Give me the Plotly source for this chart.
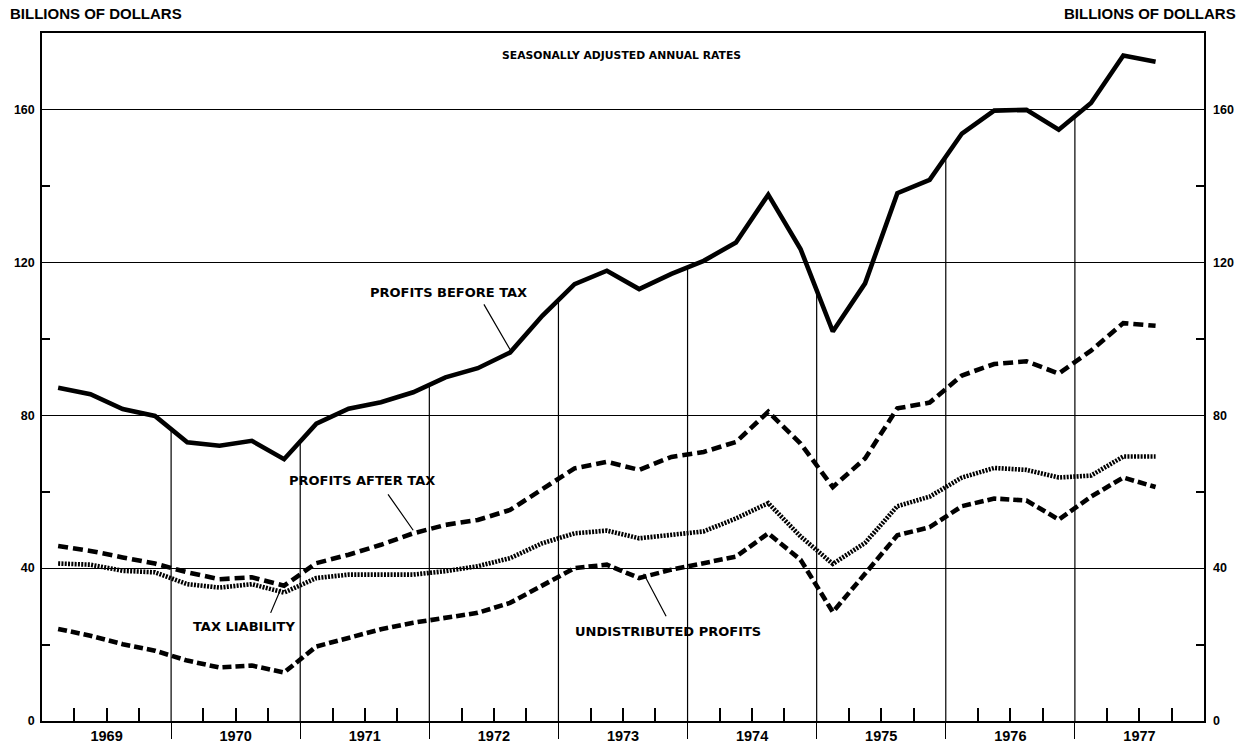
import numpy as np
import plotly.graph_objects as go

# ---------------- data (billions of dollars, seasonally adjusted annual rates) ----------------
years = [1969, 1970, 1971, 1972, 1973, 1974, 1975, 1976, 1977]
year_labels = ["1969", "1970", "1971", "1972", "1973", "1974", "1975", "1976", "1977"]
quarters = [f"{y}Q{q}" for y in years for q in (1, 2, 3, 4)][:35]   # 1969Q1 .. 1977Q3

profits_before_tax = [87.2, 85.5, 81.6, 79.8, 72.9, 72.0, 73.3, 68.5,
                      77.8, 81.7, 83.4, 86.0, 89.9, 92.3, 96.4, 106.0,
                      114.3, 117.8, 113.0, 117.0, 120.4, 125.2, 137.7, 123.5,
                      101.9, 114.5, 138.1, 141.6, 153.7, 159.7, 159.9, 154.7,
                      161.7, 174.1, 172.5]
profits_after_tax = [45.8, 44.5, 42.8, 41.2, 38.9, 37.1, 37.6, 35.4,
                     41.3, 43.5, 46.1, 49.1, 51.3, 52.6, 55.2, 60.8,
                     66.1, 67.8, 65.7, 69.1, 70.4, 73.0, 80.9, 72.6,
                     61.2, 68.7, 81.8, 83.3, 90.4, 93.4, 94.1, 90.9,
                     96.9, 104.1, 103.4]
tax_liability = [41.2, 40.9, 39.3, 38.9, 35.8, 34.9, 35.8, 33.6,
                 37.4, 38.3, 38.3, 38.3, 39.2, 40.5, 42.6, 46.5,
                 49.1, 49.8, 47.8, 48.7, 49.6, 53.0, 57.0, 48.3,
                 41.1, 46.6, 56.2, 58.7, 63.7, 66.2, 65.7, 63.7,
                 64.2, 69.2, 69.2]
undistributed_profits = [24.1, 22.3, 20.1, 18.4, 15.8, 14.0, 14.5, 12.7,
                         19.5, 21.8, 24.0, 25.7, 27.0, 28.3, 30.9, 35.3,
                         40.0, 40.9, 37.4, 39.6, 41.3, 43.0, 49.1, 42.2,
                         28.5, 38.6, 48.6, 50.7, 56.2, 58.2, 57.7, 52.7,
                         58.7, 63.7, 61.2]

y_ticks = [0, 40, 80, 120, 160]
y_minor = [20, 60, 100, 140]

# quarter mid-points on a numeric (fractional year) scale
qx = np.array([int(q[:4]) + (int(q[-1]) - 1) * 0.25 + 0.125 for q in quarters])

LAB = "DejaVu Sans"
BOLD = "Liberation Sans"

fig = go.Figure()

line_w = 4.6
fig.add_trace(go.Scatter(x=qx, y=profits_before_tax, mode="lines",
                         line=dict(color="black", width=line_w), hoverinfo="skip"))
fig.add_trace(go.Scatter(x=qx, y=profits_after_tax, mode="lines",
                         line=dict(color="black", width=line_w, dash="10px,5px"), hoverinfo="skip"))
fig.add_trace(go.Scatter(x=qx, y=tax_liability, mode="lines",
                         line=dict(color="black", width=line_w, dash="2px,1.3px"), hoverinfo="skip"))
fig.add_trace(go.Scatter(x=qx, y=undistributed_profits, mode="lines",
                         line=dict(color="black", width=line_w, dash="9px,4px"), hoverinfo="skip"))
# invisible trace so the mirrored (right / label) axes are drawn
fig.add_trace(go.Scatter(x=qx, y=profits_before_tax, xaxis="x2", yaxis="y2", mode="lines",
                         line=dict(width=0), opacity=0, hoverinfo="skip"))

# year boundary lines from the base up to the before-tax curve
boundaries = years[1:]
for b in boundaries:
    top = float(np.interp(b, qx, profits_before_tax))
    fig.add_shape(type="line", xref="x", yref="y", x0=b, x1=b, y0=0, y1=top,
                  line=dict(color="black", width=1.2), layer="below")

x_range = [years[0], years[-1] + 1]
quarter_ticks = [y + q * 0.25 for y in years for q in (1, 2, 3)]

tickfont = dict(family=BOLD, size=12.5, color="black", weight="bold")

fig.update_layout(
    width=1243, height=744,
    margin=dict(l=42, r=39, t=33, b=23, autoexpand=False),
    paper_bgcolor="white", plot_bgcolor="white",
    showlegend=False,
    xaxis=dict(range=x_range, tickmode="array", tickvals=boundaries, automargin=False,
               ticks="outside", ticklen=16, tickwidth=1.2, tickcolor="black",
               showticklabels=False, showgrid=False, zeroline=False,
               showline=True, linecolor="black", linewidth=1.5, mirror=True,
               minor=dict(tickmode="array", tickvals=quarter_ticks, ticks="inside",
                          ticklen=13, tickwidth=1.8, tickcolor="black", showgrid=False)),
    xaxis2=dict(range=x_range, overlaying="x", anchor="y", side="bottom", automargin=False,
                tickmode="array", tickvals=[y + 0.5 for y in years], ticktext=year_labels,
                ticks="", showline=False, showgrid=False, zeroline=False, ticklabelstandoff=4,
                tickfont=dict(family=BOLD, size=14.5, color="black", weight="bold")),
    yaxis=dict(range=[0, 180], tickmode="array", tickvals=y_ticks, automargin=False,
               ticks="", showgrid=True, gridcolor="black", gridwidth=1.2,
               zeroline=False, showline=True, linecolor="black", linewidth=1.5, mirror=True,
               tickfont=tickfont, ticklabelstandoff=3,
               minor=dict(tickmode="array", tickvals=y_minor, ticks="inside",
                          ticklen=8, tickwidth=1.5, tickcolor="black", showgrid=False)),
    yaxis2=dict(range=[0, 180], overlaying="y", anchor="x", side="right", automargin=False,
                tickmode="array", tickvals=y_ticks, ticks="", showgrid=False, zeroline=False,
                showline=False, tickfont=tickfont, ticklabelstandoff=8,
                minor=dict(tickmode="array", tickvals=y_minor, ticks="inside",
                           ticklen=8, tickwidth=1.5, tickcolor="black", showgrid=False)),
)

hdr = dict(family=BOLD, size=15, color="black", weight="bold")
fig.add_annotation(text="BILLIONS OF DOLLARS", xref="paper", yref="paper",
                   x=-0.029, y=1.029, xanchor="left", yanchor="middle", showarrow=False, font=hdr)
fig.add_annotation(text="BILLIONS OF DOLLARS", xref="paper", yref="paper",
                   x=1.0292, y=1.029, xanchor="right", yanchor="middle", showarrow=False, font=hdr)
fig.add_annotation(text="SEASONALLY ADJUSTED ANNUAL RATES", xref="paper", yref="y",
                   x=0.499, y=174, showarrow=False,
                   font=dict(family=LAB, size=10.8, color="black", weight="bold"))

lab = dict(family=LAB, size=13, color="black", weight="bold")
labels = [
    ("PROFITS BEFORE TAX", 1972.15, 112.0, 1972.416, 109.4, 1972.625, profits_before_tax),
    ("PROFITS AFTER TAX", 1971.479, 62.8, 1971.672, 59.7, 1971.875, profits_after_tax),
    ("TAX LIABILITY", 1970.565, 24.6, 1970.766, 27.9, 1970.85, tax_liability),
    ("UNDISTRIBUTED PROFITS", 1973.845, 23.3, 1973.84, 27.0, 1973.66, undistributed_profits),
]
for text, tx, ty, ax, ay, px, series in labels:
    fig.add_annotation(text=text, x=tx, y=ty, xref="x", yref="y", showarrow=False, font=lab)
    tip = float(np.interp(px, qx, series))
    fig.add_annotation(text="", x=px, y=tip + 0.8, ax=ax, ay=ay, xref="x", yref="y",
                       axref="x", ayref="y", showarrow=True, arrowhead=0,
                       arrowwidth=1.2, arrowcolor="black")

fig.write_html("out.html", config={"displayModeBar": False},
               post_script="document.body.style.margin='0';document.body.style.overflow='hidden';")
